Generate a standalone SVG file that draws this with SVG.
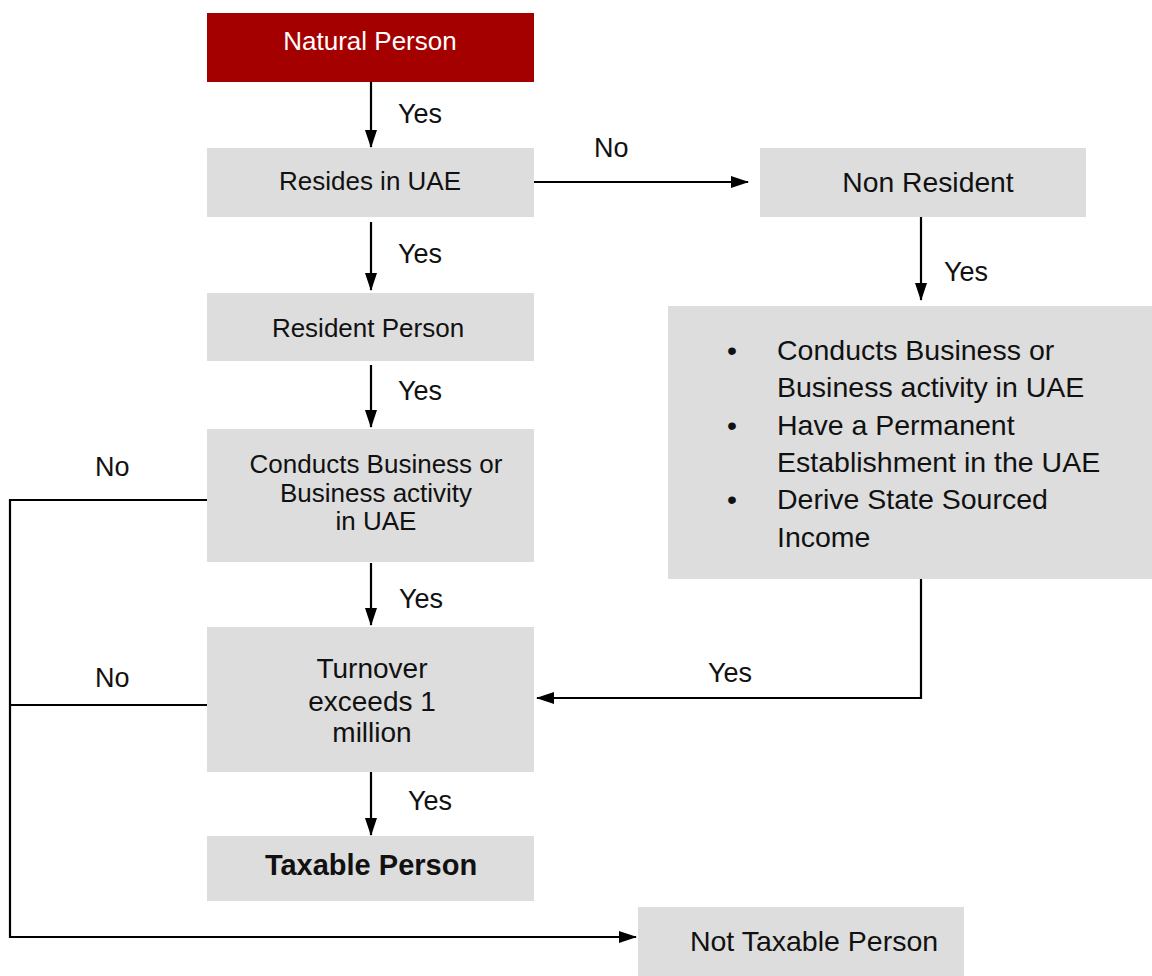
<svg xmlns="http://www.w3.org/2000/svg" width="1152" height="976" viewBox="0 0 1152 976">
<defs>
<marker id="ah" viewBox="0 0 18 12" refX="17" refY="6" markerWidth="18" markerHeight="12" markerUnits="userSpaceOnUse" orient="auto">
<path d="M0,0 L18,6 L0,12 Z" fill="#000"/>
</marker>
<style>
.box{fill:#DDDDDD;}
.red{fill:#A50000;}
text{font-family:"Liberation Sans",Arial,sans-serif;fill:#111;}
.c{text-anchor:middle;}
.w{fill:#fff;}
.lbl{font-size:27px;}
.con{stroke:#000;stroke-width:2.2;fill:none;}
</style>
</defs>
<rect width="1152" height="976" fill="#fff"/>
<g id="connectors">
<line class="con" x1="371" y1="82" x2="371" y2="147" marker-end="url(#ah)"/>
<line class="con" x1="371" y1="222" x2="371" y2="290" marker-end="url(#ah)"/>
<line class="con" x1="371" y1="365" x2="371" y2="427" marker-end="url(#ah)"/>
<line class="con" x1="371" y1="563" x2="371" y2="625" marker-end="url(#ah)"/>
<line class="con" x1="371" y1="772" x2="371" y2="835" marker-end="url(#ah)"/>
<line class="con" x1="534" y1="182" x2="748" y2="182" marker-end="url(#ah)"/>
<line class="con" x1="921" y1="217" x2="921" y2="300" marker-end="url(#ah)"/>
<polyline class="con" points="921,579 921,698 537,698" marker-end="url(#ah)"/>
<polyline class="con" points="207,500 10,500 10,937 636,937" marker-end="url(#ah)"/>
<line class="con" x1="207" y1="705" x2="10" y2="705"/>
<text class="lbl" x="398" y="123">Yes</text>
<text class="lbl" x="398" y="263">Yes</text>
<text class="lbl" x="398" y="400">Yes</text>
<text class="lbl" x="399" y="608">Yes</text>
<text class="lbl" x="408" y="810">Yes</text>
<text class="lbl" x="944" y="281">Yes</text>
<text class="lbl" x="708" y="682">Yes</text>
<text class="lbl" x="594" y="157">No</text>
<text class="lbl" x="95" y="476">No</text>
<text class="lbl" x="95" y="687">No</text>
</g>
<g id="natural-person">
<rect class="red" x="207" y="13" width="327" height="69"/>
<text class="c w" x="370" y="50" font-size="26">Natural Person</text>
</g>
<g id="resides-in-uae">
<rect class="box" x="207" y="148" width="327" height="69"/>
<text class="c" x="370" y="190" font-size="26">Resides in UAE</text>
</g>
<g id="non-resident">
<rect class="box" x="760" y="148" width="326" height="69"/>
<text class="c" x="928" y="192" font-size="28.3">Non Resident</text>
</g>
<g id="resident-person">
<rect class="box" x="207" y="293" width="327" height="68"/>
<text class="c" x="368" y="337" font-size="26">Resident Person</text>
</g>
<g id="conducts-business">
<rect class="box" x="207" y="429" width="327" height="133"/>
<text class="c" x="376" y="473" font-size="26">Conducts Business or</text>
<text class="c" x="376" y="502" font-size="26">Business activity</text>
<text class="c" x="376" y="530" font-size="26">in UAE</text>
</g>
<g id="turnover">
<rect class="box" x="207" y="627" width="327" height="145"/>
<text class="c" x="372" y="678" font-size="28">Turnover</text>
<text class="c" x="372" y="711" font-size="28">exceeds 1</text>
<text class="c" x="372" y="742" font-size="28">million</text>
</g>
<g id="taxable-person">
<rect class="box" x="207" y="836" width="327" height="65"/>
<text class="c" x="371" y="875" font-size="29" font-weight="bold">Taxable Person</text>
</g>
<g id="non-resident-conditions">
<rect class="box" x="668" y="306" width="484" height="273"/>
<g font-size="28.5">
<text x="727" y="360">•</text>
<text x="777" y="360">Conducts Business or</text>
<text x="777" y="397">Business activity in UAE</text>
<text x="727" y="435">•</text>
<text x="777" y="435">Have a Permanent</text>
<text x="777" y="472">Establishment in the UAE</text>
<text x="727" y="509">•</text>
<text x="777" y="509">Derive State Sourced</text>
<text x="777" y="547">Income</text>
</g>
</g>
<g id="not-taxable-person">
<rect class="box" x="638" y="907" width="326" height="69"/>
<text class="c" x="814" y="951" font-size="28.5">Not Taxable Person</text>
</g>
</svg>
